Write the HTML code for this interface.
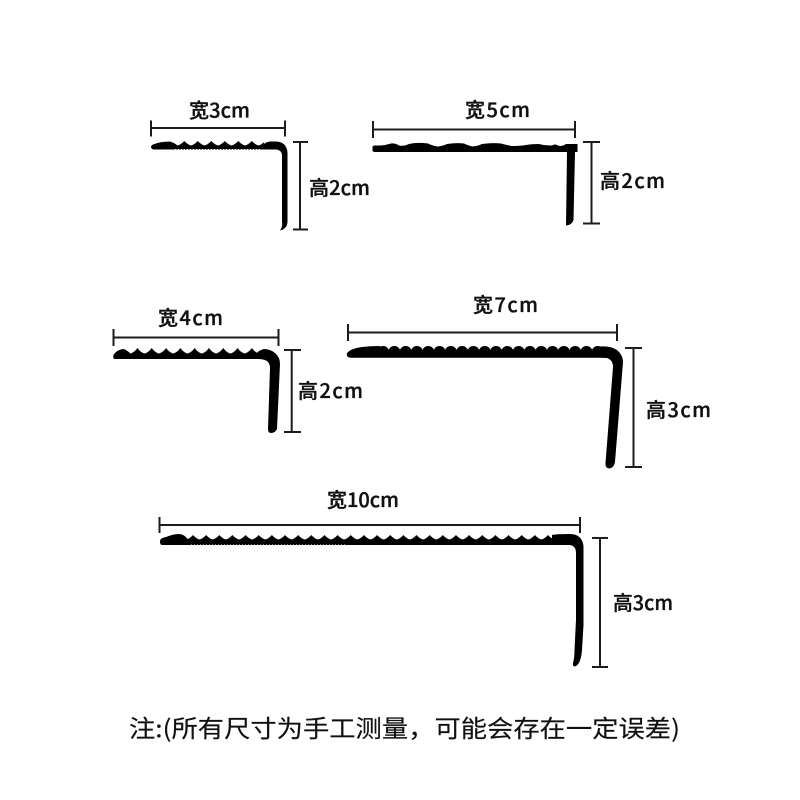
<!DOCTYPE html>
<html lang="zh">
<head>
<meta charset="utf-8">
<style>
html,body{margin:0;padding:0;background:#fff;width:800px;height:800px;overflow:hidden}
svg{display:block}
text{font-family:"Noto Sans CJK SC","Liberation Sans",sans-serif;fill:#111}
.l{font-size:20px;font-weight:500;stroke:#111;stroke-width:.35}
.d{stroke:#1c1c1c;stroke-width:2;fill:none}
.s{stroke:#fff;stroke-width:1;stroke-dasharray:1 2;fill:none}
</style>
</head>
<body>
<svg width="800" height="800" viewBox="0 0 800 800" xmlns="http://www.w3.org/2000/svg">
<defs>
<pattern id="p1" patternUnits="userSpaceOnUse" x="177.550" y="140" width="13.5" height="7"><path d="M0 5.500Q3.500 4.500 6.750 1Q10 4.500 13.500 5.500V7H0Z" fill="#000"/></pattern>
<pattern id="p3" patternUnits="userSpaceOnUse" x="116" y="347" width="14.3" height="8"><path d="M0 6.500Q4 5.500 7.150 1Q10.300 5.500 14.300 6.500V8H0Z" fill="#000"/></pattern>
<pattern id="p4" patternUnits="userSpaceOnUse" x="377.400" y="345" width="11.3" height="7"><path d="M0 5Q1.500 1 5.650 1Q9.800 1 11.300 5V7H0Z" fill="#000"/></pattern>
<pattern id="p5" patternUnits="userSpaceOnUse" x="186.400" y="534" width="13.15" height="7"><path d="M0 5.500Q3.500 4.500 6.575 1Q9.650 4.500 13.150 5.500V7H0Z" fill="#000"/></pattern>
</defs>

<!-- 3cm -->
<text class="l" x="189" y="117.500" textLength="61" lengthAdjust="spacingAndGlyphs">宽3cm</text>
<path class="d" d="M151 128H285M151 120.500V136.500M285 120.500V136.500"/>
<path d="M153 149.500Q149 147 153 144.500Q160 141.500 170 141.500Q175 143 178 146H262Q265 142 270 141.500H276Q287 142 287.500 153V222Q287 229 280 230.500Q283 226 282 222V156Q282 150 276 149.500Z" fill="#000"/>
<rect x="177" y="140" width="87" height="7" fill="url(#p1)"/>
<path class="s" d="M175 149.500H262"/>
<path class="d" d="M300 142V229.500M293 142H308M293 229.500H308"/>
<text class="l" x="309" y="195" textLength="61" lengthAdjust="spacingAndGlyphs">高2cm</text>

<!-- 5cm -->
<text class="l" x="465" y="117" textLength="65">宽5cm</text>
<path class="d" d="M373 129.500H575M373 121V138M575 121V138"/>
<path d="M372.500 147Q372.500 145.500 375 145.500H381Q386 145 391 143.500Q395 143 399 145.500Q404 146.500 409 144Q417 142 428 143.500Q433 146 438 146.500Q443 146 447 144Q456 142.500 464 143.500Q469 146 473 146.500Q478 146 482 144Q492 142.500 501 143.500Q506 145 512 146Q520 146 526 145Q531 144 539 144Q544 145.500 552 145.500Q555 143.500 558 145.500L560 146Q563 146 566 144H577.500V152H575L573.500 220Q572 225 566 225.500L567 152H375Q372.500 152 372.500 150Z" fill="#000"/>
<path class="d" d="M591.500 142V223.500M583 142H600M583 223.500H600"/>
<text class="l" x="600" y="188" textLength="65">高2cm</text>

<!-- 4cm -->
<text class="l" x="158" y="325" textLength="65">宽4cm</text>
<path class="d" d="M113.500 337.500H278.500M113.500 329V346M278.500 329V346"/>
<path d="M114 359Q112 356 115 353Q119 349 124 349Q128 351 131 354H256Q259 350 264 349Q270 349 275 353Q280 357 280 364L277 429Q275 433 271 433Q268 433 268 429L270 368Q270 362 265 360Q262 359 258 359Z" fill="#000"/>
<rect x="130" y="347" width="128" height="8" fill="url(#p3)"/>
<path class="d" d="M291.700 350V432M284 350H301M284 432H301"/>
<text class="l" x="298" y="398" textLength="65">高2cm</text>

<!-- 7cm -->
<text class="l" x="473" y="312" textLength="65">宽7cm</text>
<path class="d" d="M348 332.500H617M348 324V341M617 324V341"/>
<path d="M351 357.700Q346 357.500 347 353.500Q349 349 362 347Q370 346 380 346V351H600V346.500Q610 345.500 617 350Q623 355 623 362L615 462Q614 468 609 468.500Q605 468 605.500 463L613 367Q613 360 607 358Q604 357.700 600 357.700Z" fill="#000"/>
<rect x="377.400" y="345" width="225" height="7" fill="url(#p4)"/>
<path class="d" d="M633.500 348V467M625 348H642M625 467H642"/>
<text class="l" x="646" y="417" textLength="65">高3cm</text>

<!-- 10cm -->
<text class="l" x="327" y="507" textLength="72" lengthAdjust="spacingAndGlyphs">宽10cm</text>
<path class="d" d="M159.500 525H580M159.500 517V533M580 517V533"/>
<path d="M162 545Q160 545 160 541Q160 538 166 537Q173 534 179 534Q184 534 188 539.500H552V535Q556 534 570 534Q582 534 583.500 546V625L582 650Q581 663 576 666Q572.500 667.500 573 663Q574.500 658 574.500 650L576 620V553Q576 546 570 545Z" fill="#000"/>
<rect x="186.400" y="534" width="368" height="7" fill="url(#p5)"/>
<path class="s" d="M191 545H347"/>
<path class="d" d="M600 538V667M592 538H608M592 667H608"/>
<text class="l" x="613" y="610" textLength="60" lengthAdjust="spacingAndGlyphs">高3cm</text>

<!-- note -->
<text x="129" y="737" font-size="24" stroke="#111" stroke-width=".15" textLength="551" lengthAdjust="spacingAndGlyphs" style="font-family:'Noto Sans CJK SC',sans-serif">注:(所有尺寸为手工测量&#xFF0C;可能会存在一定误差)</text>
</svg>
</body>
</html>
